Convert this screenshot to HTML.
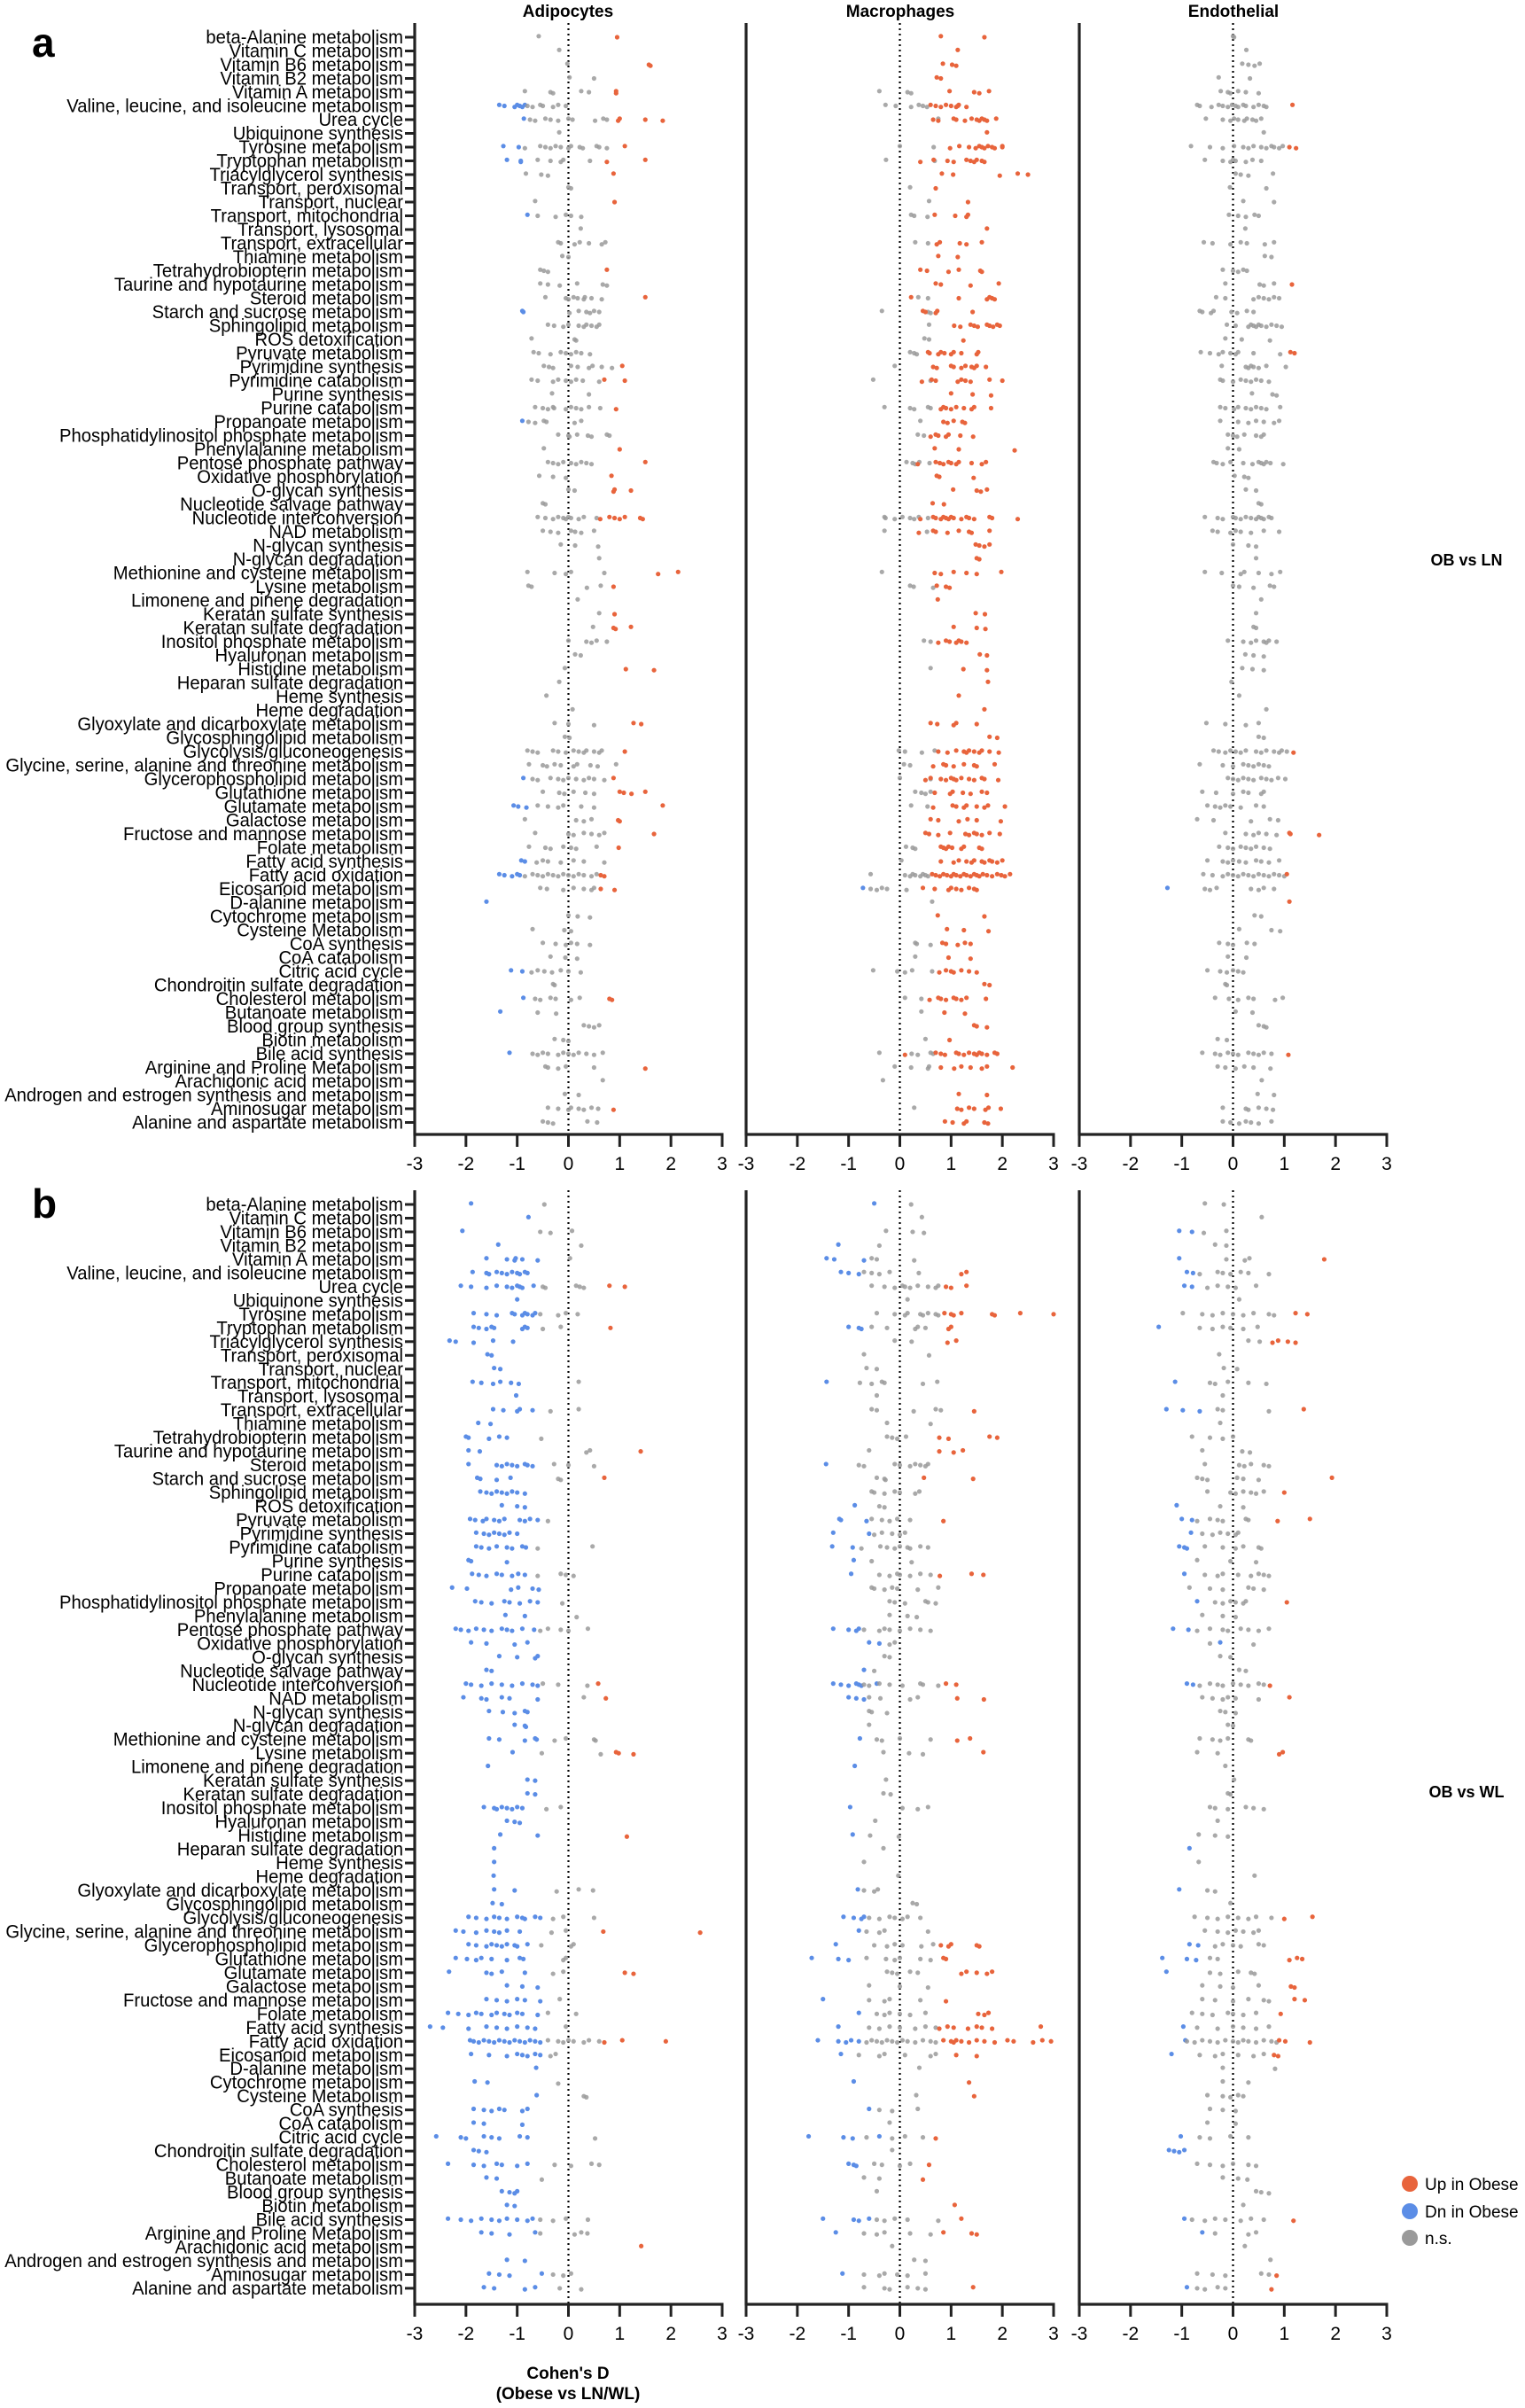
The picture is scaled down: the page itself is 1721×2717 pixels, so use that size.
<!DOCTYPE html>
<html><head><meta charset="utf-8">
<style>
html,body{margin:0;padding:0;background:#fff;}
svg{display:block;font-family:"Liberation Sans",Arial,sans-serif;}
</style></head>
<body>
<svg id="chart" width="1721" height="2717" viewBox="0 0 1721 2717" xmlns="http://www.w3.org/2000/svg">
<text x="36" y="64" font-size="46" font-weight="bold">a</text>
<text x="36" y="1374" font-size="46" font-weight="bold">b</text>
<text x="641" y="19" font-size="19" font-weight="bold" text-anchor="middle">Adipocytes</text>
<text x="1016" y="19" font-size="19" font-weight="bold" text-anchor="middle">Macrophages</text>
<text x="1392" y="19" font-size="19" font-weight="bold" text-anchor="middle">Endothelial</text>
<text x="1655" y="638" font-size="18" font-weight="bold" text-anchor="middle">OB vs LN</text>
<text x="1655" y="2028" font-size="18" font-weight="bold" text-anchor="middle">OB vs WL</text>
<g>
<circle cx="1591" cy="2464" r="9" fill="#E8643C"/>
<text x="1608" y="2471" font-size="19">Up in Obese</text>
<circle cx="1591" cy="2495" r="9" fill="#5B8DE6"/>
<text x="1608" y="2502" font-size="19">Dn in Obese</text>
<circle cx="1591" cy="2525" r="9" fill="#9a9a9a"/>
<text x="1608" y="2532" font-size="19">n.s.</text>
</g>
<text x="641" y="2684" font-size="19" font-weight="bold" text-anchor="middle">Cohen's D</text>
<text x="641" y="2707" font-size="19" font-weight="bold" text-anchor="middle">(Obese vs LN/WL)</text>
<g id="plots"></g>
</svg>
<script>
const pathways = ["beta-Alanine metabolism","Vitamin C metabolism","Vitamin B6 metabolism","Vitamin B2 metabolism","Vitamin A metabolism","Valine, leucine, and isoleucine metabolism","Urea cycle","Ubiquinone synthesis","Tyrosine metabolism","Tryptophan metabolism","Triacylglycerol synthesis","Transport, peroxisomal","Transport, nuclear","Transport, mitochondrial","Transport, lysosomal","Transport, extracellular","Thiamine metabolism","Tetrahydrobiopterin metabolism","Taurine and hypotaurine metabolism","Steroid metabolism","Starch and sucrose metabolism","Sphingolipid metabolism","ROS detoxification","Pyruvate metabolism","Pyrimidine synthesis","Pyrimidine catabolism","Purine synthesis","Purine catabolism","Propanoate metabolism","Phosphatidylinositol phosphate metabolism","Phenylalanine metabolism","Pentose phosphate pathway","Oxidative phosphorylation","O-glycan synthesis","Nucleotide salvage pathway","Nucleotide interconversion","NAD metabolism","N-glycan synthesis","N-glycan degradation","Methionine and cysteine metabolism","Lysine metabolism","Limonene and pinene degradation","Keratan sulfate synthesis","Keratan sulfate degradation","Inositol phosphate metabolism","Hyaluronan metabolism","Histidine metabolism","Heparan sulfate degradation","Heme synthesis","Heme degradation","Glyoxylate and dicarboxylate metabolism","Glycosphingolipid metabolism","Glycolysis/gluconeogenesis","Glycine, serine, alanine and threonine metabolism","Glycerophospholipid metabolism","Glutathione metabolism","Glutamate metabolism","Galactose metabolism","Fructose and mannose metabolism","Folate metabolism","Fatty acid synthesis","Fatty acid oxidation","Eicosanoid metabolism","D-alanine metabolism","Cytochrome metabolism","Cysteine Metabolism","CoA synthesis","CoA catabolism","Citric acid cycle","Chondroitin sulfate degradation","Cholesterol metabolism","Butanoate metabolism","Blood group synthesis","Biotin metabolism","Bile acid synthesis","Arginine and Proline Metabolism","Arachidonic acid metabolism","Androgen and estrogen synthesis and metabolism","Aminosugar metabolism","Alanine and aspartate metabolism"];
const xTicks = [-3,-2,-1,0,1,2,3];
const cellTypes = ["Adipocytes","Macrophages","Endothelial"];

const adipoLN = ["g:-0.58;o:0.95","g:-0.18","g:-0.02;o:1.57,1.6","g:0.02,0.5","g:-0.85,-0.35,-0.3,0.25,0.4;o:0.93,0.93","b:-1.35,-1.25,-1.05,-1.0,-0.95,-0.9,-0.85;g:-0.8,-0.7,-0.55,-0.5,-0.3,-0.2,-0.05","b:-0.87;g:-0.75,-0.65,-0.45,-0.35,-0.2,0,0.08,0.52,0.68,0.75;o:0.97,1.0,1.5,1.84","g:-0.18","b:-1.27,-0.97;g:-0.85,-0.55,-0.45,-0.35,-0.25,-0.15,0,0.05,0.22,0.28,0.55,0.6,0.75;o:1.1","b:-1.2,-0.93,-0.93;g:-0.6,-0.35,-0.15,-0.1,0.42;o:0.75,1.5","g:-0.83,-0.53,-0.4;o:0.88","g:0,0.05","g:-0.65;o:0.9","b:-0.8;g:-0.6,-0.25,-0.05,0.05,0.25","g:0.24","g:-0.2,-0.15,0.12,0.22,0.4,0.65,0.72","g:-0.12,0","g:-0.55,-0.48,-0.4;o:0.75","g:-0.55,-0.4,-0.17,0.17,0.67,0.75","g:-0.45,-0.05,0,0.1,0.18,0.3,0.32,0.45,0.65;o:1.5","b:-0.9,-0.88;g:0.02,0.2,0.35,0.42,0.5,0.6","g:-0.4,-0.28,-0.1,0,0.2,0.3,0.35,0.45,0.55,0.6","g:-0.72,0.12,0.15","g:-0.68,-0.58,-0.35,-0.15,-0.05,0.05,0.15,0.25,0.42","g:-0.48,-0.38,-0.3,0.05,0.18,0.4,0.47,0.65,0.85;o:1.05","g:-0.72,-0.6,-0.3,-0.2,-0.05,0.05,0.15,0.28,0.6;o:0.7,1.1","g:-0.32,0.4","g:-0.65,-0.5,-0.4,-0.3,-0.28,-0.05,0.05,0.15,0.25,0.4,0.62;o:0.93","b:-0.9;g:-0.78,-0.65,-0.48,-0.43,0.12,0.25","g:-0.2,0,0.02,0.17,0.38,0.45,0.75,0.8","g:-0.48;o:1.0","g:-0.4,-0.3,-0.2,-0.1,0.05,0.15,0.25,0.35,0.45;o:1.5","g:-0.57,-0.3,-0.05;o:0.84","g:0,0.12;o:0.88,0.9,1.22","g:-0.5,-0.45","g:-0.6,-0.45,-0.3,-0.2,-0.1,-0.05,0,0.05,0.2,0.3,0.55;o:0.62,0.8,0.9,1.0,1.1,1.4,1.45","g:-0.5,-0.35,-0.2,0.05,0.13,0.25,0.5","g:-0.15,0.13,0.58","g:0.6","g:-0.8,-0.27,-0.05,0.05,0.7;o:1.75,2.14","g:-0.78,-0.72,0.36,0.63;o:0.88","g:0.18","g:0.6;o:0.9","g:0.48;o:0.88,0.92,1.22","g:0,0.35,0.45,0.55,0.75","g:0.13,0.24","g:-0.07;o:1.12,1.67","g:-0.18","g:-0.43","g:0.08","g:-0.27,0,0.5;o:1.27,1.42","g:-0.07,0.02","g:-0.8,-0.7,-0.6,-0.3,-0.2,-0.05,0.1,0.2,0.3,0.35,0.5,0.6,0.65;o:1.1","g:-0.77,-0.5,-0.42,-0.27,-0.15,0.1,0.17,0.43,0.57,0.93","b:-0.88;g:-0.7,-0.6,-0.35,-0.2,-0.1,0,0.15,0.3,0.4,0.5,0.7;o:0.88","g:-0.5,-0.18,-0.08,0.1,0.33,0.5;o:1.0,1.08,1.23,1.5","b:-1.07,-0.98,-0.82;g:-0.6,-0.4,-0.2,-0.1,0.25,0.5;o:1.84","g:-0.85,0.15,0.3,0.45;o:0.97,1.0","g:-0.65,0,0.1,0.3,0.45,0.6,0.7;o:1.67","g:-0.77,-0.45,-0.35,-0.1,0.05,0.15,0.55;o:0.98","b:-0.92,-0.85;g:-0.62,-0.5,-0.4,-0.15,0.1,0.3,0.7","b:-1.35,-1.25,-1.1,-1.0,-0.95;g:-0.85,-0.7,-0.6,-0.5,-0.4,-0.3,-0.2,-0.1,0,0.1,0.2,0.3,0.45,0.55;o:0.63,0.7","g:-0.55,-0.42,-0.1,0.1,0.3,0.45,0.5;o:0.63,0.9","b:-1.6","g:0,0.18,0.42","g:-0.7,-0.08,0.05","g:-0.5,-0.25,-0.05,0.05,0.17,0.42","g:-0.35,-0.06,0.17","b:-1.12,-0.9;g:-0.72,-0.6,-0.47,-0.32,-0.15,0,0.24","g:-0.3,-0.27","b:-0.88;g:-0.65,-0.55,-0.35,-0.25,0.05,0.22;o:0.8,0.85","b:-1.33;g:-0.6,-0.24","g:0.3,0.4,0.5,0.6","g:-0.27,-0.1,0","b:-1.15;g:-0.7,-0.6,-0.5,-0.4,-0.2,-0.1,0,0.1,0.2,0.35,0.5,0.67","g:-0.45,-0.4,-0.2,-0.05,0.5;o:1.5","g:0.67","g:-0.07,0.2","g:-0.4,-0.2,0,0.05,0.2,0.3,0.45,0.58;o:0.88","g:-0.5,-0.4,-0.3,0.37,0.56"];

const macroLN = ["o:0.8,1.65","o:1.13","o:0.84,1.02,1.1","o:0.72,0.8","g:-0.4,0.15,0.22;o:0.97,1.45,1.55,1.74","g:-0.28,-0.08,0.22,0.37,0.45,0.53;o:0.6,0.7,0.8,0.9,1.0,1.1,1.15,1.13,1.3","g:0.75;o:0.65,0.75,1.05,1.1,1.27,1.4,1.5,1.55,1.6,1.65,1.7,1.88","o:1.7","g:0,0.66;o:0.98,1.16,1.35,1.48,1.55,1.6,1.65,1.72,1.8,1.85,2.0,2.0","g:-0.27,0.68;o:0.4,0.66,0.93,1.05,1.3,1.38,1.45,1.5,1.6,1.65","o:0.82,1.04,1.95,2.3,2.5","g:0.2;o:0.7","g:0.57;o:1.33","g:0.22,0.28,0.54;o:0.68,1.08,1.3,1.33","o:1.7","g:0.3,0.55;o:0.72,0.78,1.17,1.3,1.6","o:0.75,1.13","o:0.4,0.53,0.95,1.15,1.57,1.6","o:0.7,0.8,1.38,1.93","o:0.22,1.15,1.7,1.75,1.8,1.85;g:0.36,0.55","g:-0.35,0.55,0.6;o:0.45,0.5,0.7,0.73,1.42","g:0.57;o:1.06,1.18,1.38,1.45,1.52,1.7,1.75,1.82,1.9,1.95","g:0.48,0.57;o:1.24","g:0.2,0.28,0.33;o:0.55,0.58,0.75,0.8,0.87,1.0,1.05,1.2,1.5,1.53","g:-0.1;o:0.65,0.72,1.0,1.05,1.2,1.28,1.4,1.45,1.5,1.68","g:-0.52,0.6;o:0.43,0.62,0.7,1.13,1.2,1.28,1.38,1.75,2.0","o:1.0,1.42,1.78","g:-0.3,0.2,0.28,0.55,0.6;o:0.8,0.85,0.9,1.0,1.1,1.25,1.4,1.45,1.78","g:0.4;o:0.85,0.93,1.05,1.22,1.27","g:0.35,0.47;o:0.6,0.7,0.75,0.9,0.95,1.18,1.43","o:0.68,1.15,2.24","g:0.13,0.25,0.3,0.38,0.58;o:0.35,0.7,0.78,0.85,0.95,1.0,1.1,1.15,1.4,1.6,1.68","o:0.72,0.77,1.44","o:1.04,1.5,1.58,1.7","o:0.64,0.86","g:-0.3,-0.28,-0.1,0.05,0.2,0.28,0.37,0.55;o:0.4,0.65,0.7,0.8,0.85,0.9,0.95,1.0,1.05,1.2,1.3,1.35,1.45,1.75,1.8,2.3","g:-0.3,0.53;o:0.37,0.65,0.7,0.93,1.15,1.35,1.4,1.75","o:1.48,1.55,1.65,1.75","o:1.5,1.55","g:-0.35;o:0.68,0.8,1.05,1.3,1.5,1.98","g:0.2,0.27,0.65;o:0.72,0.9,0.97","o:0.74","o:1.48,1.66","o:1.05,1.5,1.67","g:0.47,0.6;o:0.75,0.9,0.97,1.1,1.15,1.2,1.3","o:1.56,1.7","g:0.6;o:1.24,1.7","o:1.72","o:1.15","o:1.65","o:0.6,0.73,1.05,1.1,1.5","o:1.75,1.9","g:-0.02,0.1,0.43,0.68;o:0.75,0.93,1.1,1.25,1.3,1.35,1.45,1.55,1.6,1.75,1.93","g:0.08,0.2;o:0.65,0.85,0.9,1.05,1.25,1.45,1.5,1.85","g:0,0.6;o:0.5,0.6,0.8,0.9,1.0,1.05,1.1,1.2,1.35,1.45,1.6,1.65,1.92","g:0.3,0.42,0.5,0.6;o:0.68,0.98,1.03,1.23,1.38,1.6,1.7","g:0.22,0.54;o:0.65,1.03,1.1,1.25,1.3,1.5,1.65,1.72,2.05","o:0.6,0.75,1.15,1.32,1.5,1.97","o:0.5,0.57,0.75,0.98,1.28,1.35,1.45,1.5,1.6,1.75,1.95","g:0.12,0.25,0.3;o:0.8,0.85,0.9,0.95,1.02,1.2,1.25,1.55,1.6","g:0.03;o:0.8,1.05,1.15,1.3,1.4,1.45,1.6,1.65,1.75,1.8,1.9,2.0","g:-0.57,0.1,0.2,0.25,0.3,0.4,0.45,0.5,0.55;o:0.63,0.7,0.78,0.85,0.92,1.0,1.05,1.1,1.18,1.25,1.3,1.38,1.45,1.5,1.55,1.62,1.7,1.8,1.9,1.98,2.05,2.15","b:-0.72;g:-0.57,-0.45,-0.35,-0.25,0.13;o:0.45,0.68,0.95,1.0,1.1,1.2,1.35,1.45,1.5","g:0.63","o:0.74,1.65","o:0.92,1.25,1.73","g:0.3,0.33,0.6;o:0.83,0.9,1.13,1.27,1.38","g:0.3;o:0.95,1.38","g:-0.52,-0.05,0.1,0.24,0.63;o:0.77,0.9,1.0,1.05,1.2,1.35,1.5","o:1.65,1.75","g:0.1,0.42;o:0.58,0.75,0.8,0.9,1.05,1.1,1.2,1.3,1.68","g:0.42;o:0.87,1.27","o:1.45,1.5,1.7","g:0.5;o:0.97","g:-0.4,0.23,0.35,0.6,0.65;o:0.1,0.7,0.8,0.88,1.1,1.15,1.25,1.35,1.45,1.5,1.55,1.6,1.7,1.85,1.9","g:-0.1,0.22,0.55,0.57;o:0.8,1.06,1.2,1.38,1.6,1.7,2.2","g:-0.33","o:1.15,1.7","g:0.28;o:1.12,1.2,1.35,1.45,1.67,1.73,1.97","o:0.88,1.03,1.25,1.3,1.65,1.72"];

const endoLN = ["g:0,0.02","g:0.26","g:0.18,0.3,0.42,0.52","g:-0.28,0.33","g:-0.24,-0.1,-0.05,0.1,0.25,0.5","g:-0.7,-0.65,-0.42,-0.28,-0.2,-0.1,-0.02,0.05,0.1,0.2,0.25,0.4,0.5,0.6,0.65;o:1.16","g:-0.53,-0.2,-0.05,0.02,0.1,0.22,0.27,0.38,0.45,0.55","g:0.6","g:-0.82,-0.45,-0.2,0.02,0.2,0.3,0.4,0.55,0.65,0.75,0.8,0.9,0.97;o:1.1,1.23","g:-0.55,-0.2,-0.05,0,0.05,0.25,0.38,0.55","g:0.05,0.15,0.3,0.78","g:-0.06,0.65","g:0.2,0.8","g:-0.08,0.1,0.25,0.42,0.5","g:0.24","g:-0.57,-0.4,-0.05,0.15,0.27,0.62,0.8","g:0.62,0.75","g:-0.2,0,0.1,0.2,0.27","g:-0.15,0.52,0.6,0.8;o:1.15","g:-0.33,-0.15,0.4,0.5,0.6,0.7,0.8,0.9","g:-0.65,-0.6,-0.43,-0.38,-0.03,0.08,0.27,0.4","g:-0.12,0.05,0.3,0.35,0.4,0.45,0.5,0.55,0.65,0.75,0.85,0.95","g:-0.15,0.17,0.72","g:-0.63,-0.45,-0.28,-0.2,-0.05,0.05,0.1,0.4,0.92;o:1.12,1.2","g:-0.22,0.25,0.3,0.35,0.4,0.5,0.65,1.03","g:-0.25,-0.2,0,0.15,0.25,0.35,0.45,0.55,0.7","g:0.37,0.77,0.85","g:-0.25,-0.15,0.02,0.1,0.25,0.35,0.45,0.55,0.65,0.92","g:-0.25,0.1,0.3,0.45,0.6,0.8,0.9","g:-0.1,0,0.08,0.22,0.45,0.55,0.6","g:-0.1,0.12","g:-0.38,-0.32,-0.2,-0.05,0.2,0.38,0.5,0.55,0.6,0.65,0.73,0.98","g:0.03,0.22,0.3","g:0.25,0.45","g:0.5,0.55","g:-0.55,-0.3,-0.2,0,0.05,0.15,0.25,0.35,0.45,0.5,0.55,0.6,0.7,0.75","g:-0.4,-0.3,-0.05,0.05,0.15,0.35,0.6,0.9","g:0,0.3,0.45","g:0.45","g:-0.55,-0.22,0.15,0.22,0.5,0.75,0.92","g:0,0.12,0.4,0.72,0.8","g:0.55","g:0.45","g:0.4,0.45","g:-0.1,0.2,0.35,0.45,0.6,0.65,0.7,0.85","g:0.24,0.4,0.6","g:0.18,0.38,0.6","g:-0.03","g:0.12","g:0.65","g:-0.52,-0.15,0.25,0.5","g:0.5,0.6","g:-0.38,-0.28,-0.15,-0.05,0.05,0.15,0.25,0.45,0.55,0.65,0.8,0.9,0.95,1.05;o:1.18","g:-0.65,-0.2,0,0.2,0.3,0.4,0.5,0.6,0.7","g:-0.1,0,0.1,0.2,0.3,0.4,0.55,0.65,0.75,0.88,1.02","g:-0.6,-0.33,0,0.2,0.3,0.55,0.6","g:-0.5,-0.35,-0.25,-0.15,-0.05,0.15,0.45,0.6","g:-0.7,-0.38,0.35,0.72,0.88","g:-0.15,0.25,0.4,0.5,0.65,0.85;o:1.1,1.12,1.68","g:-0.27,-0.1,0,0.15,0.25,0.35,0.45,0.6,0.72","g:-0.5,-0.2,-0.1,0,0.12,0.25,0.45,0.55,0.7,0.9","g:-0.58,-0.4,-0.2,-0.1,0,0.1,0.2,0.3,0.4,0.5,0.6,0.7,0.8,0.9,1.0;o:1.05","b:-1.28;g:-0.55,-0.45,-0.32,0.35,0.5,0.6,0.8","o:1.1","g:0.42,0.55","g:0.12,0.75,0.92","g:-0.27,-0.1,0,0.27,0.42","g:-0.1,0.26","g:-0.5,-0.25,-0.12,0,0.1,0.2","g:-0.15,-0.12","g:-0.35,-0.08,0.1,0.3,0.4,0.82,0.97","g:0.05,0.38","g:0.5,0.6,0.65","g:-0.3,-0.12","g:-0.6,-0.35,-0.25,-0.1,0,0.1,0.3,0.4,0.5,0.6,0.75;o:1.08","g:-0.3,-0.15,0.05,0.22,0.4,0.73","g:0.56","g:0.48,0.8","g:-0.2,0.25,0.3,0.5,0.65,0.78","g:-0.2,-0.05,0.12,0.25,0.35,0.5,0.75"];

const adipoWL = ["b:-1.9;g:-0.47","b:-0.78","b:-2.07;g:-0.55,-0.35,0.07","b:-1.37;g:0.25","b:-1.6,-1.2,-1.05,-1.03,-0.9,-0.6;g:0.03","b:-1.87,-1.6,-1.55,-1.4,-1.3,-1.2,-1.1,-1.0,-0.95,-0.85,-0.8","b:-2.1,-1.9,-1.6,-1.4,-1.2,-1.1,-1.0,-0.95,-0.9,-0.68;g:-0.5,-0.45,0.15,0.22,0.3;o:0.8,1.1","b:-1.0","b:-1.85,-1.6,-1.4,-1.1,-1.05,-0.9,-0.85,-0.8,-0.7,-0.65;g:-0.55,-0.2,-0.05,0.18","b:-1.85,-1.75,-1.6,-1.5,-1.45,-0.9,-0.85,-0.8;g:-0.5,-0.15;o:0.82","b:-2.32,-2.2,-1.85,-1.47,-1.08","b:-1.58,-1.5","b:-1.45,-1.33","b:-1.87,-1.7,-1.47,-1.33,-1.12,-0.97;g:0.2","b:-1.02","b:-1.47,-1.27,-1.0,-0.95,-0.7;g:-0.35,0.2","b:-1.76,-1.52","b:-2.0,-1.95,-1.55,-1.35,-1.2;g:-0.53","b:-1.95,-1.73;g:0.35,0.42;o:1.41","b:-1.95,-1.4,-1.3,-1.2,-1.1,-1.0,-0.85,-0.8,-0.7;g:-0.28,0,0.5","b:-1.78,-1.72,-1.4,-1.13;g:-0.2,-0.15;o:0.7","b:-1.72,-1.6,-1.5,-1.4,-1.3,-1.2,-1.1,-1.0,-0.85","b:-1.3,-1.0,-0.85","b:-1.92,-1.82,-1.67,-1.6,-1.45,-1.35,-1.25,-0.95,-0.85,-0.75,-0.6;g:-0.4","b:-1.8,-1.65,-1.55,-1.45,-1.35,-1.25,-1.15,-1.0","b:-1.8,-1.7,-1.55,-1.4,-1.2,-1.1,-0.9,-0.83;g:-0.6,0.47","b:-1.95,-1.9,-1.2","b:-1.88,-1.75,-1.6,-1.4,-1.3,-1.1,-0.98,-0.85;g:-0.6,-0.15,-0.05,0.1","b:-2.27,-1.98,-1.12,-0.98,-0.7,-0.58","b:-1.82,-1.7,-1.5,-1.25,-1.15,-0.95,-0.75,-0.6;g:-0.12","b:-1.23,-0.85;g:0.16","b:-2.2,-2.1,-1.95,-1.8,-1.65,-1.5,-1.3,-1.2,-1.1,-0.9,-0.67;g:-0.55,-0.4,-0.15,0,0.38","b:-1.9,-1.6,-1.05,-0.8","b:-1.35,-1.0,-0.65,-0.6","b:-1.6,-1.5","b:-2.0,-1.9,-1.7,-1.5,-1.3,-1.1,-0.9,-0.7,-0.6;g:-0.5,-0.2,0.37;o:0.58","b:-2.05,-1.7,-1.6,-1.3,-1.15,-0.6;g:0.3;o:0.73","b:-1.55,-1.28,-1.05,-0.85,-0.8","b:-1.05,-0.85,-0.83","b:-1.55,-1.35,-0.85,-0.65,-0.62;g:-0.27,-0.05,0.5,0.53","b:-1.09;g:-0.52,0.63;o:0.93,0.98,1.27","b:-1.57","b:-0.8,-0.65","b:-0.8,-0.65","b:-1.65,-1.45,-1.4,-1.3,-1.2,-1.1,-1.0,-0.9;g:-0.43,-0.15","b:-1.2,-1.05,-0.95","b:-1.33,-0.6;o:1.14","b:-1.45","b:-1.45","b:-1.46","b:-1.45,-1.05;g:-0.23,0.2,0.48","b:-1.48,-1.3","b:-1.95,-1.8,-1.6,-1.45,-1.35,-1.2,-1.0,-0.9,-0.85,-0.65,-0.55;g:-0.3,-0.1,0.5","b:-2.2,-2.05,-1.8,-1.6,-1.45,-1.35,-1.2,-0.95;g:-0.33,-0.05;o:0.68,2.57","b:-1.95,-1.8,-1.6,-1.5,-1.4,-1.3,-1.2,-1.05,-1.0,-0.8;g:-0.53,0.05,0.1","b:-2.2,-1.98,-1.8,-1.7,-1.5,-1.2,-0.95,-0.88;g:-0.1,-0.05","b:-2.33,-1.6,-1.5,-1.3,-0.85;g:-0.3,-0.1;o:1.1,1.27","b:-1.2,-0.9,-0.6","b:-1.6,-1.4,-1.2,-1.0,-0.85,-0.55;g:-0.17","b:-2.35,-2.15,-1.95,-1.8,-1.7,-1.5,-1.4,-1.25,-1.15,-1.0,-0.9,-0.6;g:-0.4,0.15","b:-2.7,-2.45,-1.95,-1.6,-1.4,-1.2,-1.0,-0.8,-0.65;g:-0.05","b:-1.92,-1.85,-1.75,-1.65,-1.55,-1.45,-1.35,-1.25,-1.15,-1.05,-0.95,-0.85,-0.75,-0.65,-0.55;g:-0.4,-0.2,-0.1,0,0.1,0.3,0.4,0.6;o:0.7,1.05,1.9","b:-1.9,-1.55,-1.2,-1.0,-0.9,-0.8,-0.65,-0.55;g:-0.35,-0.25","b:-0.63","b:-1.83,-1.58;g:-0.2","b:-0.62;g:0.3,0.35","b:-1.85,-1.65,-1.5,-1.35,-1.25,-0.9,-0.8","b:-1.85,-1.65,-0.9","b:-2.58,-2.1,-2.0,-1.65,-1.5,-1.35,-0.95,-0.8;g:0.52","b:-1.85,-1.75,-1.6","b:-2.35,-1.85,-1.65,-1.4,-1.3,-1.0,-0.8;g:-0.27,0.05,0.45,0.6","b:-1.6,-1.4;g:-0.52","b:-1.3,-1.15,-1.05,-1.0","b:-1.2,-1.05","b:-2.35,-2.1,-1.9,-1.7,-1.5,-1.35,-1.2,-1.0,-0.8,-0.7;g:-0.55,-0.3,-0.05,0.38","b:-1.7,-1.5,-1.15,-0.65;g:-0.55,0.12,0.25,0.37","o:1.42","b:-1.2,-0.85","b:-1.55,-1.35,-1.15,-0.52;g:-0.3,-0.1,0.05","b:-1.65,-1.45,-0.85,-0.65;g:-0.17,0.25"];

const macroWL = ["b:-0.5;g:0.22","g:0.43","g:-0.27,0.25,0.47","b:-1.2;g:-0.4","b:-1.43,-1.28,-0.7;g:-0.55,-0.45,0.28","b:-1.15,-1.0,-0.8;g:-0.7,-0.55,-0.4,-0.2,0.37;o:1.2,1.3","g:-0.55,-0.3,-0.1,0.05,0.1,0.2,0.35,0.55,0.7,0.75;o:0.9,1.0,1.3","g:0.15","g:-0.45,-0.1,0.1,0.15,0.4,0.45,0.55,0.7,0.75;o:0.87,1.0,1.05,1.2,1.8,1.85,2.35,3.0","b:-1.0,-0.8,-0.75;g:-0.55,-0.25,0.3,0.35,0.5;o:0.95,1.0","g:-0.1,0.23;o:0.93,1.1","g:-0.7,0.57","g:-0.65,-0.45","b:-1.43;g:-0.78,-0.55,-0.35,-0.3,0.45,0.73","g:-0.45","g:-0.55,-0.45,0.27,0.7,0.8;o:1.45","g:-0.25,0.6","g:-0.25,-0.15,-0.05,0.12;o:0.77,0.95,1.75,1.9","g:-0.6;o:0.77,1.05,1.23","b:-1.44;g:-0.8,-0.7,-0.1,0,0.2,0.3,0.4,0.5,0.55","g:-0.45,-0.3,-0.28;o:0.47,1.43","g:-0.55,-0.5,-0.3,-0.1,0,0.3,0.38","b:-0.88;g:-0.4,-0.3","b:-1.18,-1.15,-0.65;g:-0.55,-0.35,-0.2,-0.05,0.2;o:0.85","b:-1.3,-0.6;g:-0.5,-0.35,-0.15,0,0.1","b:-1.32,-0.92;g:-0.75,-0.38,-0.25,-0.1,0,0.15,0.2,0.4,0.55","b:-0.9;g:-0.55,0.23","b:-0.95;g:-0.4,-0.2,-0.05,0,0.2,0.4,0.6;o:0.78,1.4,1.63","g:-0.55,-0.5,-0.3,-0.15,-0.05,0.35,0.75","g:-0.2,-0.1,0.1,0.5,0.55,0.7","g:-0.2,0.15,0.33","b:-1.3,-1.0,-0.85,-0.8;g:-0.7,-0.4,-0.3,-0.2,0,0.2,0.4,0.6","b:-0.6,-0.4;g:-0.2,-0.1","g:-0.3,-0.2","b:-0.7;g:-0.5","b:-1.3,-1.15,-1.0,-0.85,-0.8,-0.75,-0.45;g:-0.7,-0.6,-0.4,-0.2,0.05,0.4,0.45,0.75;o:0.9,1.1","b:-1.0,-0.85,-0.7;g:-0.6,-0.38,0.2,0.35;o:1.12,1.64","g:-0.6,-0.55,-0.25","g:-0.6","b:-0.78;g:-0.45,-0.35,0,0.6;o:1.12,1.37","g:-0.32,0.18,0.45;o:1.63","b:-0.88","g:-0.27","g:-0.32,-0.18","b:-0.97;g:0.05,0.35,0.55","g:-0.48","b:-0.92;g:-0.58,-0.02","g:-0.32","g:-0.7","g:-0.03","b:-0.82;g:-0.7,-0.5,-0.43","g:0.25,0.33","b:-1.1,-0.9,-0.75,-0.7;g:-0.6,-0.4,-0.2,-0.1,0.05,0.15,0.4","b:-0.8;g:-0.65,-0.4,-0.3,0.55","b:-1.25;g:-0.5,-0.25,-0.1,0.05,0.42,0.65;o:0.8,0.95,1.0,1.5,1.55","b:-1.72,-1.2,-1.0;g:-0.65,-0.27,-0.1,0,0.4,0.6;o:0.85,0.9","g:-0.25,-0.15,-0.05,0.2,0.35;o:1.2,1.3,1.5,1.7,1.8","g:-0.6,0,0.55","b:-1.5;g:-0.6,-0.3,-0.2,0.4;o:0.9","b:-0.8;g:-0.45,-0.3,-0.2,0,0.2,0.5;o:1.53,1.65,1.73","b:-1.2;g:-0.6,-0.4,-0.2,0,0.3,0.5,0.7;o:0.77,0.93,1.05,1.33,1.5,1.6,1.8,2.75","b:-1.6,-1.2,-1.05,-0.95,-0.8;g:-0.65,-0.55,-0.45,-0.35,-0.25,-0.15,-0.05,0.05,0.15,0.3,0.45,0.6,0.7;o:0.85,1.0,1.05,1.1,1.2,1.35,1.5,1.65,1.85,2.1,2.22,2.6,2.78,2.95","b:-1.15;g:-0.8,-0.4,-0.3,0.1,0.6,0.7;o:1.1,1.5","g:0.38","b:-0.9;o:1.35","g:0.32;o:1.45","b:-0.6;g:-0.4,-0.15,0.35","g:-0.2","b:-1.78,-1.1,-0.92,-0.4;g:-0.65,-0.15,0.1,0.45;o:0.7","g:-0.15","b:-1.0,-0.9,-0.85;g:-0.5,-0.35,0,0.2;o:0.57","g:-0.7,-0.4;o:0.45","g:-0.45","o:1.07","b:-1.5,-0.9,-0.8,-0.6;g:-0.45,-0.3,-0.1,0.15,0.75;o:1.2","b:-1.25;g:-0.7,-0.45,-0.3,0.2,0.6;o:0.85,1.4,1.5","g:-0.15","g:0.28,0.5","b:-1.12;g:-0.7,-0.4,-0.3,-0.05,0.15,0.5","g:-0.7,-0.3,-0.2,0.15,0.35,0.5;o:1.43"];

const endoWL = ["g:-0.55,-0.18","g:0.56","b:-1.05,-0.8;g:-0.57,-0.13","g:-0.35,-0.13","b:-1.05;g:-0.13,0.23,0.32;o:1.78","b:-0.9,-0.78;g:-0.65,-0.3,-0.2,-0.05,0.15,0.3,0.7","b:-0.95,-0.8;g:-0.5,-0.3,-0.1,0.05,0.45","g:0.12","g:-0.98,-0.6,-0.4,-0.2,0,0.2,0.4,0.7,0.8;o:1.22,1.45","b:-1.45;g:-0.65,-0.4,-0.2,-0.05,0.2,0.48","g:0.3,0.52;o:0.77,0.88,1.07,1.22","g:-0.27","g:-0.18,0.08","b:-1.13;g:-0.45,-0.35,-0.1,0.3,0.65","g:-0.2","b:-1.3,-0.98,-0.65;g:-0.3,-0.2,0.7;o:1.38","g:-0.25","g:-0.8,-0.45,-0.2,0","g:-0.6,0.18,0.33","g:-0.55,0.12,0.22,0.35,0.6,0.7","g:-0.7,-0.6,-0.5,0.08,0.2,0.5;o:1.93","g:-0.5,-0.05,0.05,0.2,0.35,0.45,0.6;o:1.0","b:-1.1;g:-0.25,0.2","b:-1.0,-0.8;g:-0.7,-0.45,-0.3,-0.2,0.25,0.3;o:0.87,1.5","b:-0.82;g:-0.6,-0.4,-0.25,-0.1,0.05,0.1","b:-1.05,-0.95,-0.9;g:-0.55,-0.2,0.05,0.2,0.5,0.55","g:-0.7,-0.05,0.45","b:-0.95;g:-0.55,-0.3,-0.2,0.1,0.35,0.5,0.6,0.7","g:-0.85,-0.45,-0.2,0.3,0.4,0.6","b:-0.7;g:-0.35,-0.2,-0.05,0.05,0.2,0.25;o:1.05","g:-0.6,-0.2,0.05","b:-1.17,-0.87;g:-0.7,-0.45,-0.2,-0.1,0.15,0.3,0.5,0.7","b:-0.25;g:-0.45,0.4","g:-0.25,-0.05","g:0.12,0.25","b:-0.9,-0.78;g:-0.65,-0.45,-0.3,-0.2,0,0.15,0.3,0.5,0.6;o:0.72","g:-0.6,-0.4,-0.2,-0.1,0.05,0.5;o:1.1","g:-0.25,-0.15,0.05","g:-0.1,0","g:-0.65,-0.4,-0.25,-0.1,0.3,0.35","g:-0.7,-0.3;o:0.9,0.97","g:-0.15","g:0.02","g:-0.1,-0.05","g:-0.45,-0.35,-0.1,0.25,0.4,0.6","g:-0.3","g:-0.67,-0.35,-0.1","b:-0.85","g:-0.67","g:0.42","b:-1.05;g:-0.5,-0.35","g:-0.05","g:-0.75,-0.5,-0.3,-0.1,0.1,0.3,0.45,0.75;o:1.0,1.55","g:-0.55,-0.3,-0.1,0.05,0.2,0.4,0.5","b:-0.85,-0.68;g:-0.35,-0.2,0,0.15,0.5,0.6","b:-1.38,-0.9,-0.72;g:-0.45,-0.3;o:1.1,1.25,1.35","b:-1.3;g:-0.45,-0.25,0.1,0.35,0.42","g:-0.6,-0.25,0,0.5;o:1.13,1.2","g:-0.6,-0.35,0,0.3,0.6,0.7;o:1.2,1.4","g:-0.8,-0.6,-0.4,-0.1,0,0.2,0.45;o:0.93","b:-0.97;g:-0.7,-0.3,0,0.2,0.45,0.7","b:-0.93;g:-0.9,-0.75,-0.6,-0.45,-0.3,-0.15,0,0.1,0.2,0.3,0.45,0.6,0.75,0.85;o:0.9,1.02,1.5","b:-1.2;g:-0.65,-0.35,-0.2,0.1,0.4,0.6;o:0.8,0.88","g:-0.2,0.82","g:-0.2,0.3","g:-0.5,-0.2,-0.05,0.1,0.2","g:-0.45,-0.2,0.05","g:-0.5,0.05","b:-1.02;g:-0.65,-0.45,-0.05,0.3","b:-1.25,-1.15,-1.05,-0.95","g:-0.7,-0.45,-0.2,0,0.3,0.45","g:-0.2,0.1,0.28","g:0.45,0.55,0.7","g:0.2","b:-0.95;g:-0.8,-0.55,-0.35,-0.15,0.15,0.35,0.6;o:1.18","b:-0.6;g:-0.35,0.3,0.45","g:0.23","g:0.73","g:-0.7,-0.4,-0.15,0.55,0.7;o:0.85","b:-0.9;g:-0.7,-0.55,-0.3,-0.15;o:0.75"];

// ---- layout (not data) ----
const NS = "http://www.w3.org/2000/svg";
const root = document.getElementById('plots');
const panelLeft = [468, 842, 1218];
const panelW = 347;
const rowGroups = [
  {key:'a', top:26, axisY:1280, row0:42, step:15.5, data:[adipoLN, macroLN, endoLN]},
  {key:'b', top:1343, axisY:2600, row0:1359, step:15.48, data:[adipoWL, macroWL, endoWL]}
];
const colors = {o:'#E8643C', b:'#5B8DE6', g:'#9a9a9a'};
const statusName = {o:'up', b:'down', g:'ns'};
function xScale(p, v){ return panelLeft[p] + (v + 3) / 6 * panelW; }
function yScale(g, i){ return g.row0 + i * g.step; }
function mk(tag, attrs, parent){
  const el = document.createElementNS(NS, tag);
  for (const k in attrs) el.setAttribute(k, attrs[k]);
  (parent || root).appendChild(el);
  return el;
}
function parseRow(s){
  const out = [];
  s.split(';').forEach(part => {
    const [c, vals] = part.split(':');
    vals.split(',').forEach(v => out.push({c: c, v: parseFloat(v)}));
  });
  return out;
}
const labelEls = [];
rowGroups.forEach(g => {
  for (let p = 0; p < 3; p++) {
    const grp = mk('g', {});
    
    
    const z = mk('line', {x1: xScale(p,0), x2: xScale(p,0), y1: g.top, y2: g.axisY, stroke:'#000', 'stroke-width':2.2, 'stroke-dasharray':'2 4'}, grp);
    
    
    const ya = mk('line', {x1: panelLeft[p], x2: panelLeft[p], y1: g.top, y2: g.axisY + 1.5, stroke:'#222', 'stroke-width':3.2}, grp);
    
    
    const xa = mk('line', {x1: panelLeft[p] - 1.5, x2: panelLeft[p] + panelW + 1.5, y1: g.axisY, y2: g.axisY, stroke:'#222', 'stroke-width':3.2}, grp);
    
    
    xTicks.forEach(t => {
      const tx = xScale(p, t);
      const tk = mk('line', {x1: tx, x2: tx, y1: g.axisY, y2: g.axisY + 14, stroke:'#222', 'stroke-width':3}, grp);
      
      
      const tl = mk('text', {x: tx, y: g.axisY + 40, 'font-size': 21, 'text-anchor':'middle'}, grp);
      tl.textContent = String(t);
      
      
    });
    g.data[p].forEach((rowStr, i) => {
      const y = yScale(g, i);
      parseRow(rowStr).forEach((d, j) => {
        const dy = ((j % 3) - 1) * 1.2;
        const c = mk('circle', {cx: xScale(p, d.v), cy: y + dy, r: 2.6, fill: colors[d.c], 'fill-opacity': d.c === 'g' ? 0.85 : 1}, grp);
        
        
      });
    });
  }
  pathways.forEach((name, i) => {
    const y = yScale(g, i);
    const tk = mk('line', {x1: panelLeft[0] - 11, x2: panelLeft[0], y1: y, y2: y, stroke:'#222', 'stroke-width':3});
    
    
    const t = mk('text', {'font-size': 21, 'text-anchor':'end', transform: 'translate(' + (panelLeft[0] - 13) + ',' + (y + 7) + ')'});
    t.textContent = name;
    
    
    labelEls.push(t);
  });
});
let maxW = 0;
labelEls.forEach(t => { try { maxW = Math.max(maxW, t.getComputedTextLength()); } catch(e){} });
if (maxW > 0) {
  const s = Math.min(1.2, 450 / maxW);
  labelEls.forEach(t => t.setAttribute('transform', t.getAttribute('transform') + ' scale(' + s.toFixed(3) + ',1)'));
}
</script>
</body></html>
